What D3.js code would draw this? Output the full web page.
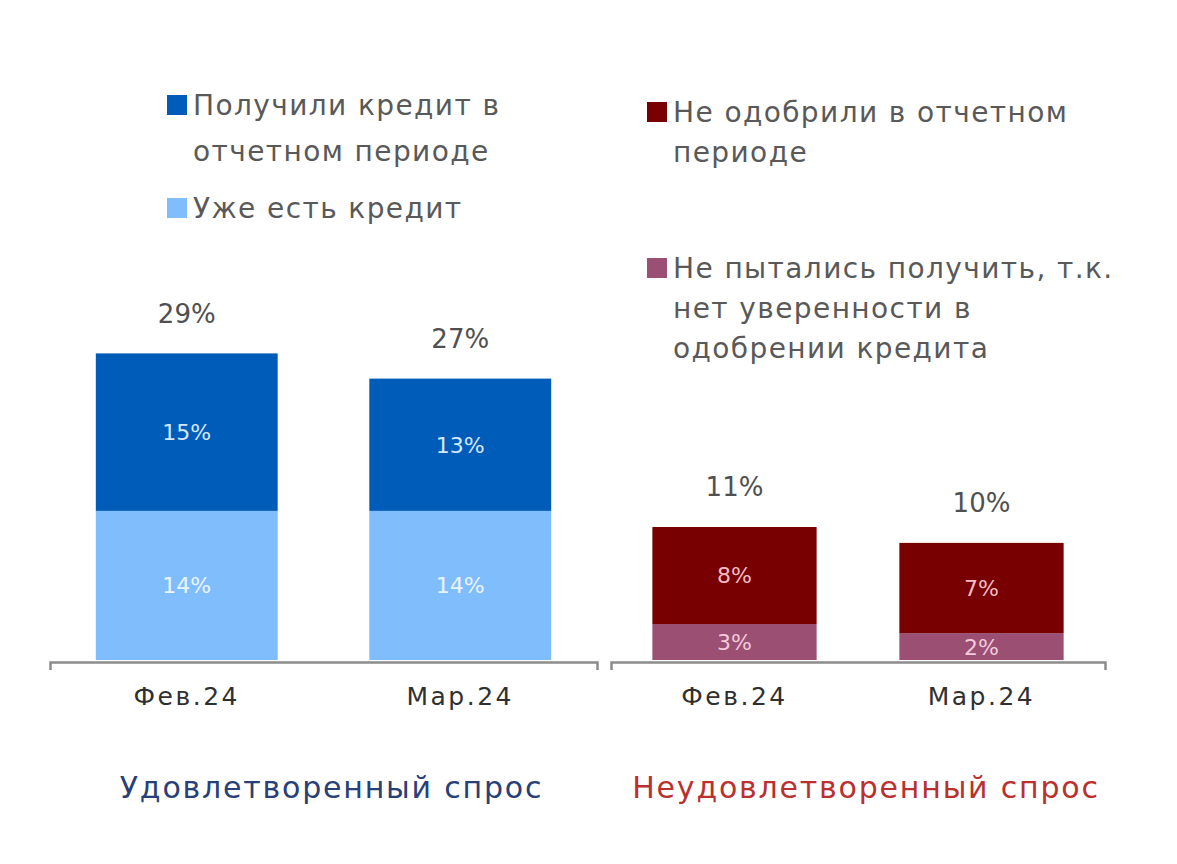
<!DOCTYPE html>
<html>
<head>
<meta charset="utf-8">
<script src="https://cdn.jsdelivr.net/npm/d3@7"></script>
<style>
  body { margin: 0; background: #fff; }
  svg { display: block; font-family: "DejaVu Sans", sans-serif; }
</style>
</head>
<body>
<div id="chart"></div>
<script>
// months on both panels
const months = ["Фев.24", "Мар.24"];

// satisfied demand (left panel), % of respondents
const haveCredit = [14.2, 14.2];     // Уже есть кредит
const gotCredit = [15.0, 12.6];      // Получили кредит в отчетном периоде

// unsatisfied demand (right panel)
const notTried = [2.95, 2.2];        // Не пытались получить...
const rejected = [7.95, 7.4];        // Не одобрили в отчетном периоде

const panelTitles = ["Удовлетворенный спрос", "Неудовлетворенный спрос"];

const width = 1177;
const height = 864;
const baseY = 660;

const svg = d3.select("#chart").append("svg")
    .attr("width", width)
    .attr("height", height);

svg.append("rect").attr("width", width).attr("height", height).attr("fill", "#fff");

const panels = [
    {
        x0: 50, x1: 597, yMax: 30, yTop: 345,
        bottom: haveCredit, top: gotCredit,
        colors: ["#80bdfd", "#005cb9"],
        inner: ["#eaf4ff", "#d6e8ff"],
        title: panelTitles[0], titleColor: "#283f78",
        legend: [
            { color: "#005cb9", y: 105, lines: ["Получили кредит в", "отчетном периоде"] },
            { color: "#80bdfd", y: 208, lines: ["Уже есть кредит"] }
        ],
        legendX: 167, lineH: 46
    },
    {
        x0: 611, x1: 1105, yMax: 25, yTop: 355,
        bottom: notTried, top: rejected,
        colors: ["#9a4f73", "#780000"],
        inner: ["#f3c9dc", "#f2bcc4"],
        title: panelTitles[1], titleColor: "#b9312f",
        legend: [
            { color: "#780000", y: 112, lines: ["Не одобрили в отчетном", "периоде"] },
            { color: "#9a4f73", y: 268, lines: ["Не пытались получить, т.к.", "нет уверенности в", "одобрении кредита"] }
        ],
        legendX: 647, lineH: 40
    }
];

panels.forEach(p => {
    const x = d3.scaleBand()
        .domain(months)
        .range([p.x0, p.x1])
        .paddingInner(0.335)
        .paddingOuter(0.1675);

    const y = d3.scaleLinear()
        .domain([0, p.yMax])
        .range([baseY, p.yTop]);

    const rows = months.map((m, i) => ({ m, a: p.bottom[i], b: p.top[i] }));

    const g = svg.append("g");

    // lower segment
    g.selectAll(".low")
        .data(rows)
        .join("rect")
        .attr("x", d => x(d.m))
        .attr("width", x.bandwidth())
        .attr("y", d => y(d.a))
        .attr("height", d => y(0) - y(d.a))
        .attr("fill", p.colors[0]);

    // upper segment
    g.selectAll(".high")
        .data(rows)
        .join("rect")
        .attr("x", d => x(d.m))
        .attr("width", x.bandwidth())
        .attr("y", d => y(d.a + d.b))
        .attr("height", d => y(d.a) - y(d.a + d.b))
        .attr("fill", p.colors[1]);

    g.selectAll(".lowLabel")
        .data(rows)
        .join("text")
        .attr("x", d => x(d.m) + x.bandwidth() / 2)
        .attr("y", d => (y(0) + y(d.a)) / 2)
        .attr("dy", "0.36em")
        .attr("text-anchor", "middle")
        .attr("font-size", 22)
        .attr("fill", p.inner[0])
        .text(d => Math.round(d.a) + "%");

    g.selectAll(".highLabel")
        .data(rows)
        .join("text")
        .attr("x", d => x(d.m) + x.bandwidth() / 2)
        .attr("y", d => (y(d.a) + y(d.a + d.b)) / 2)
        .attr("dy", "0.36em")
        .attr("text-anchor", "middle")
        .attr("font-size", 22)
        .attr("fill", p.inner[1])
        .text(d => Math.round(d.b) + "%");

    // totals above bars
    g.selectAll(".total")
        .data(rows)
        .join("text")
        .attr("x", d => x(d.m) + x.bandwidth() / 2)
        .attr("y", d => y(d.a + d.b) - 40)
        .attr("dy", "0.36em")
        .attr("text-anchor", "middle")
        .attr("font-size", 26)
        .attr("fill", "#505050")
        .text(d => Math.round(d.a + d.b) + "%");

    // axis with bracket ends
    const axis = g.append("g")
        .attr("transform", `translate(0,${baseY + 2})`)
        .call(d3.axisBottom(x).tickSizeInner(0).tickSizeOuter(8).tickPadding(25));
    axis.select(".domain").attr("stroke", "#8c8c8c").attr("stroke-width", 2.5);
    axis.selectAll("text")
        .attr("font-size", 25)
        .attr("letter-spacing", 2.5)
        .attr("font-family", "DejaVu Sans, sans-serif")
        .attr("fill", "#303030");

    // panel title
    g.append("text")
        .attr("x", (p.x0 + p.x1) / 2 + 8)
        .attr("y", 787)
        .attr("dy", "0.36em")
        .attr("text-anchor", "middle")
        .attr("font-size", 30)
        .attr("letter-spacing", 1.8)
        .attr("fill", p.titleColor)
        .text(p.title);

    // legend
    p.legend.forEach(item => {
        g.append("rect")
            .attr("x", p.legendX)
            .attr("y", item.y - 10)
            .attr("width", 20)
            .attr("height", 20)
            .attr("fill", item.color);
        const t = g.append("text")
            .attr("x", p.legendX + 26)
            .attr("y", item.y)
            .attr("dy", "0.36em")
            .attr("font-size", 28)
            .attr("letter-spacing", 1.4)
            .attr("fill", "#595959");
        item.lines.forEach((line, i) => {
            t.append("tspan")
                .attr("x", p.legendX + 26)
                .attr("y", item.y + i * p.lineH)
                .attr("dy", "0.36em")
                .text(line);
        });
    });
});
</script>
</body>
</html>
